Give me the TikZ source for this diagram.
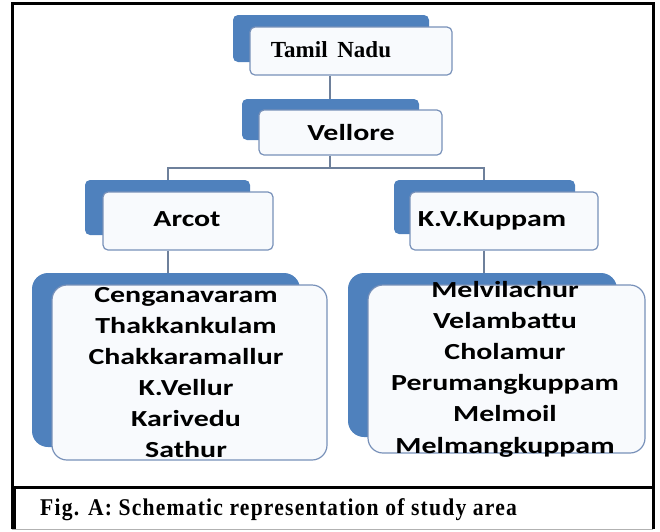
\documentclass[tikz,border=0pt]{standalone}
\usepackage{fontspec}
\setmainfont{Liberation Serif}
\newfontfamily\boxfont[FakeStretch=1.3]{Carlito}
\newfontfamily\capfont[FakeStretch=0.9,LetterSpace=5]{Liberation Serif}
\usetikzlibrary{positioning}
\definecolor{smartblue}{RGB}{79,129,189}
\definecolor{boxedge}{RGB}{120,145,185}
\definecolor{boxfill}{RGB}{248,250,253}
\definecolor{linkgray}{RGB}{110,128,155}

\begin{document}
\begin{tikzpicture}[x=1pt,y=-1pt,
  back/.style={fill=smartblue,rounded corners=5pt,inner sep=0pt},
  front/.style={draw=boxedge,fill=boxfill,line width=1.2pt,rounded corners=5pt,inner sep=0pt},
  lbl/.style={font=\boxfont\bfseries\fontsize{23}{28}\selectfont,inner sep=0pt,anchor=base},
  link/.style={draw=linkgray,line width=1.5pt}]
  \useasboundingbox (0,0) rectangle (660,531);
  % rahmen
  \draw[line width=3pt] (12,529) |- (653,3.5) -- (653,529);
  % ebene 1 und 2
  \node[back,minimum width=196pt,minimum height=47pt] (tnB) at (331,38.5) {};
  \node[front,minimum width=202pt,minimum height=48pt] (tnF) at (351,51) {};
  \node[anchor=base,inner sep=0pt,font=\bfseries\fontsize{23}{28}\selectfont] (tnT) at (331,57) {Tamil\hspace{4pt} Nadu};
  \node[back,minimum width=177pt,minimum height=41pt] (velB) at (330.5,119.5) {};
  \node[front,minimum width=183pt,minimum height=45pt] (velF) at (350.5,132.5) {};
  \node[lbl] (velT) at (351,140) {Vellore};
  % ebene 3
  \node[back,minimum width=165pt,minimum height=55pt] (arcB) at (167.5,207.5) {};
  \node[front,minimum width=170pt,minimum height=58pt] (arcF) at (188,221) {};
  \node[lbl] (arcT) at (187,226) {Arcot};
  \node[back,minimum width=181pt,minimum height=54pt] (kvB) at (484.5,207) {};
  \node[front,minimum width=188pt,minimum height=58pt] (kvF) at (504,221) {};
  \node[lbl] (kvT) at (492,226) {K.V.Kuppam};
  % dorflisten
  \node[back,rounded corners=16pt,minimum width=268pt,minimum height=174pt] (arcLB) at (166,360) {};
  \node[front,rounded corners=15pt,minimum width=275pt,minimum height=175pt] (arcLF) at (189.5,372.5) {};
  \node[back,rounded corners=16pt,minimum width=269pt,minimum height=164pt] (kvLB) at (482.5,355) {};
  \node[front,rounded corners=15pt,minimum width=277pt,minimum height=168pt] (kvLF) at (506.5,369) {};
  \foreach \name [count=\i from 0] in {Cenganavaram,Thakkankulam,Chakkaramallur,K.Vellur,Karivedu,Sathur}
    \node[lbl] (arcV\i) at (186,302+31*\i) {\name};
  \foreach \name [count=\i from 0] in {Melvilachur,Velambattu,Cholamur,Perumangkuppam,Melmoil,Melmangkuppam}
    \node[lbl] (kvV\i) at (505,297+31.2*\i) {\name};
  % verbindungen
  \coordinate (jv) at (330,168);
  \coordinate (ja) at (168,168);
  \coordinate (jk) at (484,168);
  \draw[link] (tnF.south -| jv) -- (velB.north -| jv);
  \draw[link] (velF.south -| jv) -- (jv);
  \draw[link] (arcB.north -| ja) -- (ja) -- (jk) -- (kvB.north -| jk);
  \draw[link] (arcF.south -| ja) -- (arcLB.north -| ja);
  \draw[link] (kvF.south -| jk) -- (kvLB.north -| jk);
  % bildunterschrift
  \draw[line width=3pt] (14,529) -- (14,487) -- (653,487);
  \draw[gray!60,line width=1.5pt] (12,529.5) -- (653,529.5);
  \node[anchor=base west,inner sep=0pt,font=\capfont\bfseries\fontsize{24}{28}\selectfont] (cap) at (40,515) {Fig. A: Schematic representation of study area};
\end{tikzpicture}
\end{document}
